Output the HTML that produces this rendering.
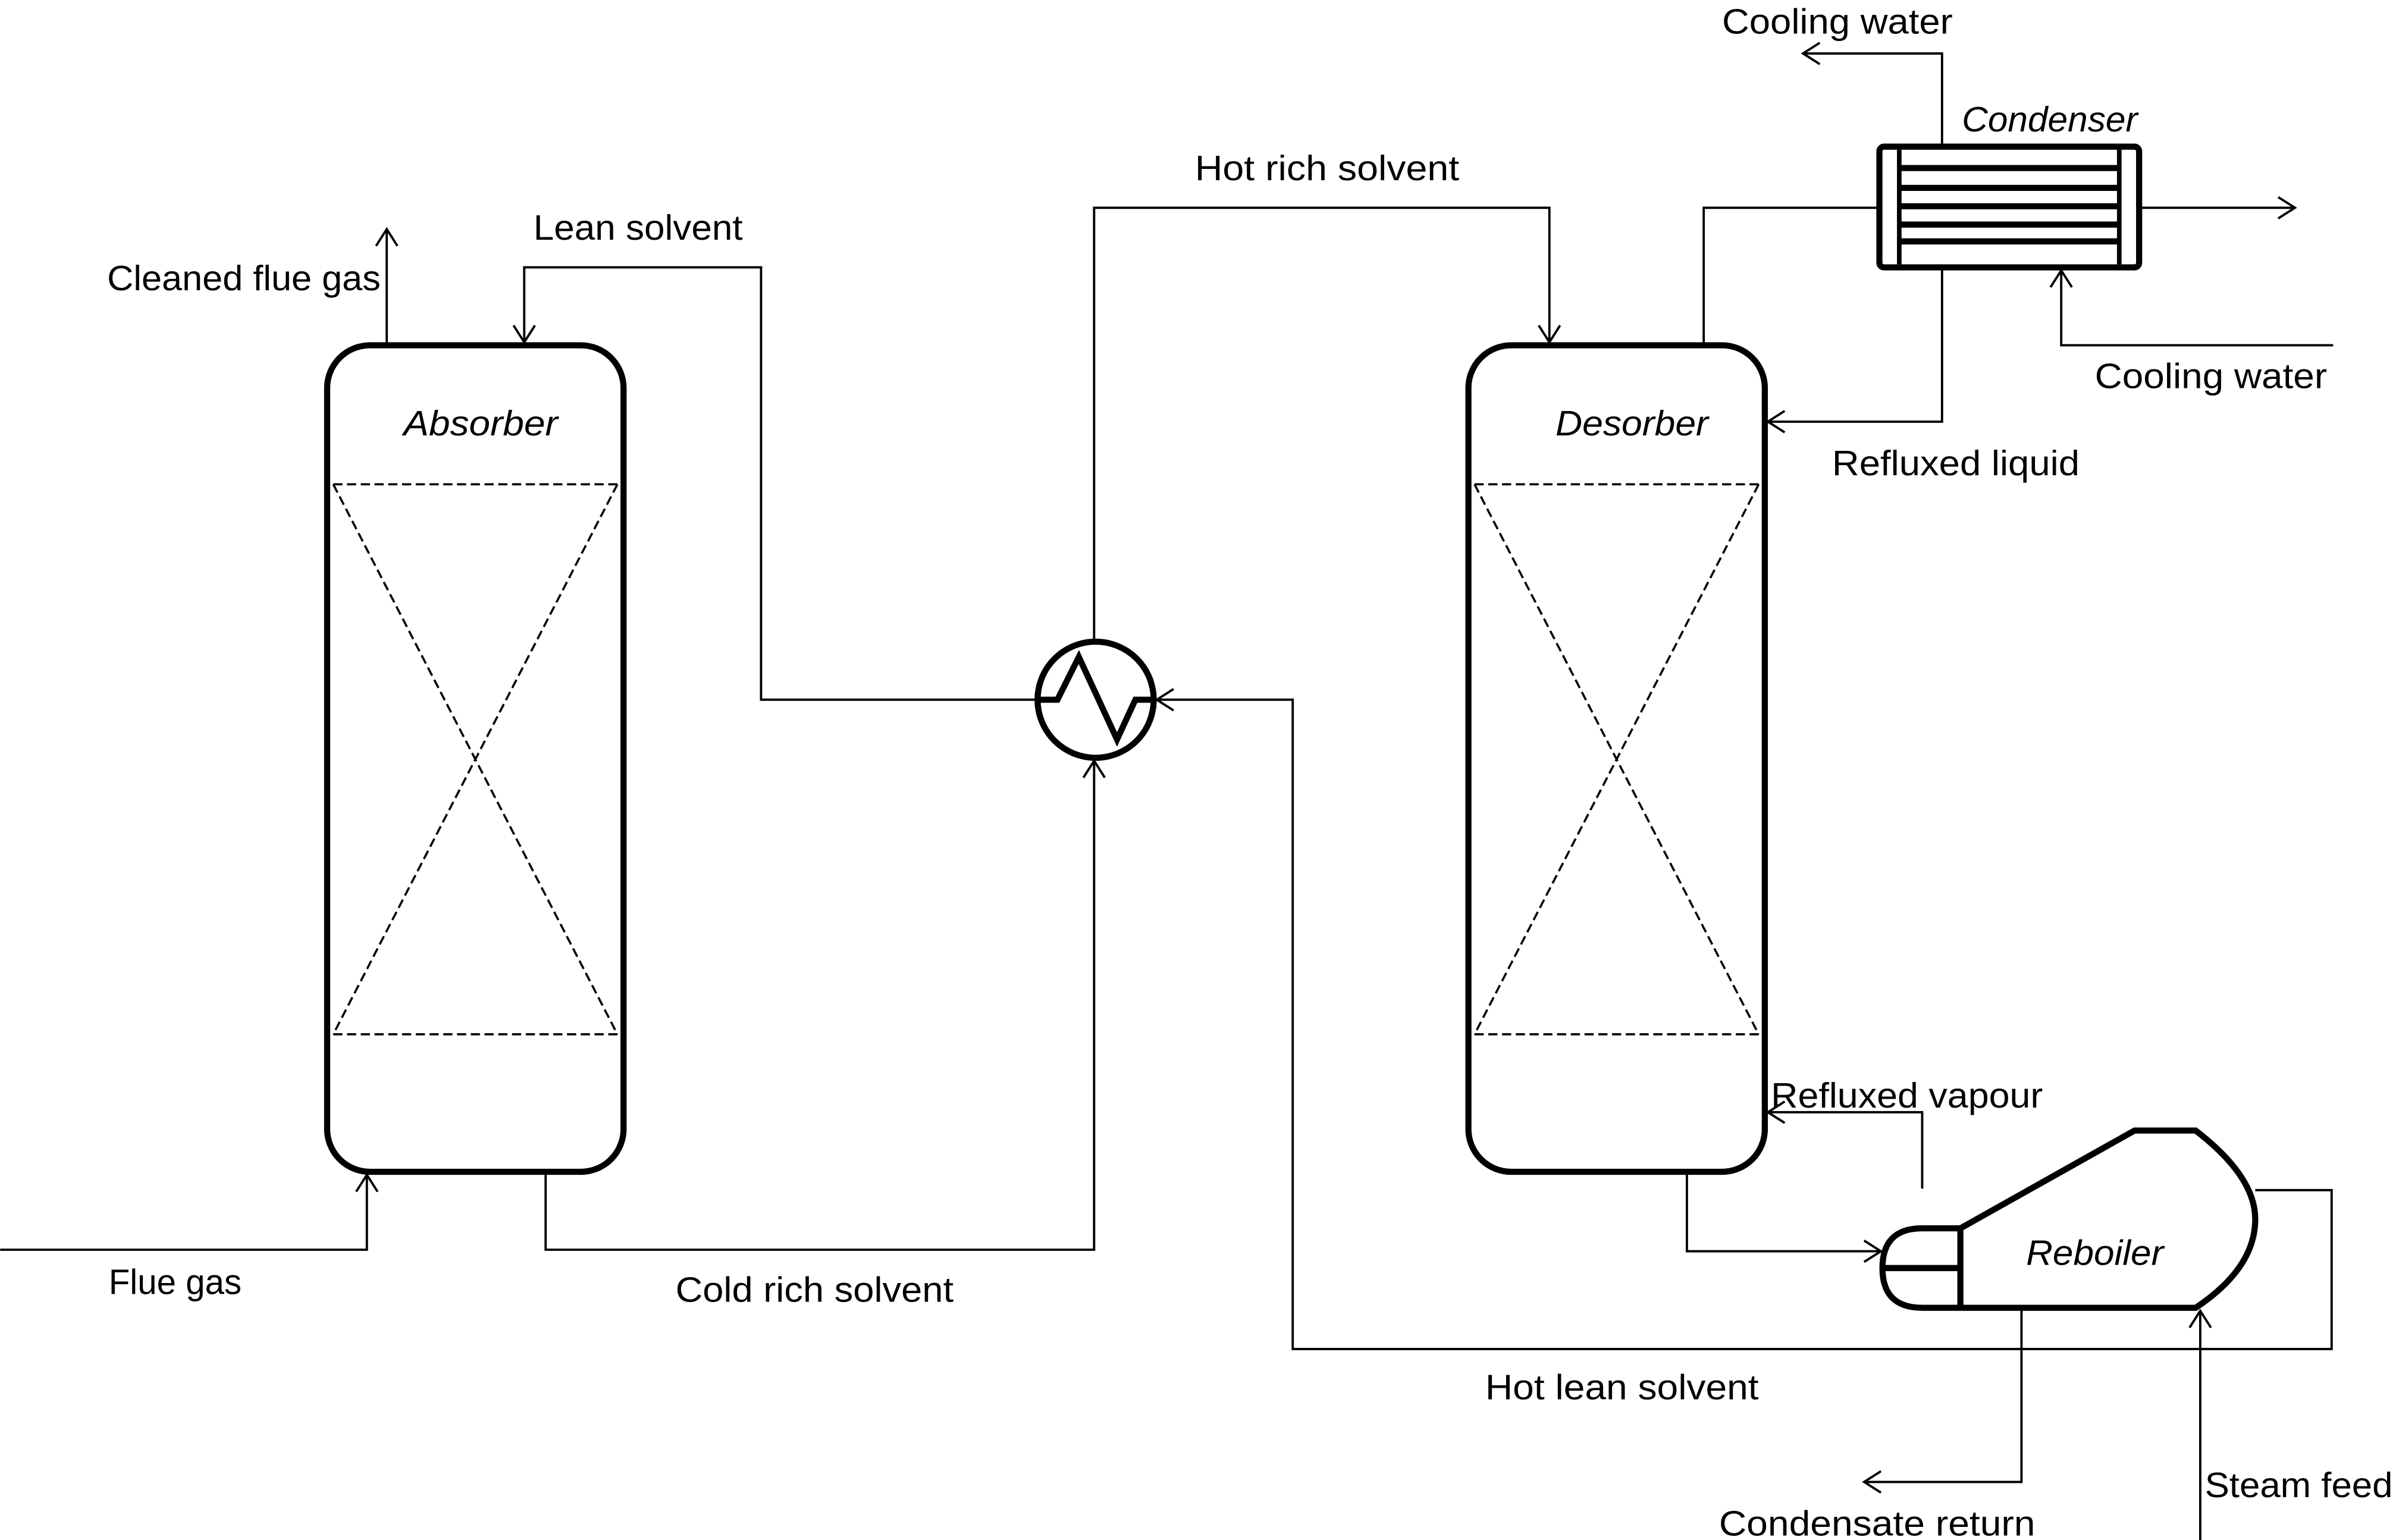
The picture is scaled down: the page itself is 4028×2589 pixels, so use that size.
<!DOCTYPE html>
<html><head><meta charset="utf-8"><style>html,body{margin:0;padding:0;background:#fff}svg{display:block}</style></head>
<body>
<svg width="4028" height="2589" viewBox="0 0 1568 1008" xmlns="http://www.w3.org/2000/svg">
<defs>
<marker id="a" markerWidth="14" markerHeight="16" refX="12" refY="8" orient="auto" markerUnits="userSpaceOnUse">
<polyline points="1,1 12,8 1,15" fill="none" stroke="#000" stroke-width="1.5"/>
</marker>
</defs>
<g fill="none" stroke="#000" stroke-width="1.5">
<path d="M253 226 V150" marker-end="url(#a)"/>
<path d="M679 458 H498 V175 H343 V224" marker-end="url(#a)"/>
<path d="M0 818 H240 V769" marker-end="url(#a)"/>
<path d="M357 767 V818 H716 V498" marker-end="url(#a)"/>
<path d="M716 420 V136 H1014 V224" marker-end="url(#a)"/>
<path d="M1476 779 H1526 V883 H846 V458 H757" marker-end="url(#a)"/>
<path d="M1115 226 V136 H1230"/>
<path d="M1400 136 H1502" marker-end="url(#a)"/>
<path d="M1271 96 V35 H1180" marker-end="url(#a)"/>
<path d="M1527 226 H1349 V177" marker-end="url(#a)"/>
<path d="M1271 175 V276 H1157" marker-end="url(#a)"/>
<path d="M1258 778 V728 H1157" marker-end="url(#a)"/>
<path d="M1104 767 V819 H1231" marker-end="url(#a)"/>
<path d="M1323 856 V970 H1220" marker-end="url(#a)"/>
<path d="M1440 1008 V858" marker-end="url(#a)"/>
</g>
<g fill="none" stroke="#000" stroke-width="1.4" stroke-dasharray="6,3">
<path d="M218 317 H404 M218 677 H404 M218 317 L404 677 M404 317 L218 677"/>
<path d="M965 317 H1151 M965 677 H1151 M965 317 L1151 677 M1151 317 L965 677"/>
</g>
<g fill="none" stroke="#000" stroke-width="4">
<rect x="214" y="226" width="194" height="541" rx="28"/>
<rect x="961" y="226" width="194" height="541" rx="28"/>
<circle cx="717" cy="458" r="38"/>
<polyline points="680,458 692,458 706,430 731,484 743,458 755,458" stroke-width="4"/>
<rect x="1230" y="96" width="170" height="79" rx="3"/>
<path d="M1243 98 V173 M1387 98 V173" stroke-width="3"/>
<path d="M1243 110 H1387 M1243 123 H1387 M1243 135 H1387 M1243 147 H1387 M1243 158 H1387" stroke-width="4"/>
<path d="M1283 804 L1397 740 H1437 Q1476 770 1476 798 Q1476 830 1437 856 H1258 Q1232 856 1232 830 Q1232 804 1258 804 H1283 V856 M1232 830 H1283"/>
</g>
<g font-family="'Liberation Sans', sans-serif" font-size="23" fill="#000">
<text x="1127" y="22" textLength="151" lengthAdjust="spacingAndGlyphs">Cooling water</text>
<text x="1284" y="86" textLength="115" lengthAdjust="spacingAndGlyphs" font-style="italic">Condenser</text>
<text x="782" y="118" textLength="173" lengthAdjust="spacingAndGlyphs">Hot rich solvent</text>
<text x="349" y="157" textLength="137" lengthAdjust="spacingAndGlyphs">Lean solvent</text>
<text x="70" y="190" textLength="179" lengthAdjust="spacingAndGlyphs">Cleaned flue gas</text>
<text x="1371" y="254" textLength="152" lengthAdjust="spacingAndGlyphs">Cooling water</text>
<text x="264" y="285" textLength="101" lengthAdjust="spacingAndGlyphs" font-style="italic">Absorber</text>
<text x="1018" y="285" textLength="100" lengthAdjust="spacingAndGlyphs" font-style="italic">Desorber</text>
<text x="1199" y="311" textLength="162" lengthAdjust="spacingAndGlyphs">Refluxed liquid</text>
<text x="1159" y="725" textLength="178" lengthAdjust="spacingAndGlyphs">Refluxed vapour</text>
<text x="1326" y="828" textLength="90" lengthAdjust="spacingAndGlyphs" font-style="italic">Reboiler</text>
<text x="71" y="847" textLength="87" lengthAdjust="spacingAndGlyphs">Flue gas</text>
<text x="442" y="852" textLength="182" lengthAdjust="spacingAndGlyphs">Cold rich solvent</text>
<text x="972" y="916" textLength="179" lengthAdjust="spacingAndGlyphs">Hot lean solvent</text>
<text x="1125" y="1005" textLength="207" lengthAdjust="spacingAndGlyphs">Condensate return</text>
<text x="1443" y="980" textLength="123" lengthAdjust="spacingAndGlyphs">Steam feed</text>
</g>
</svg>
</body></html>
